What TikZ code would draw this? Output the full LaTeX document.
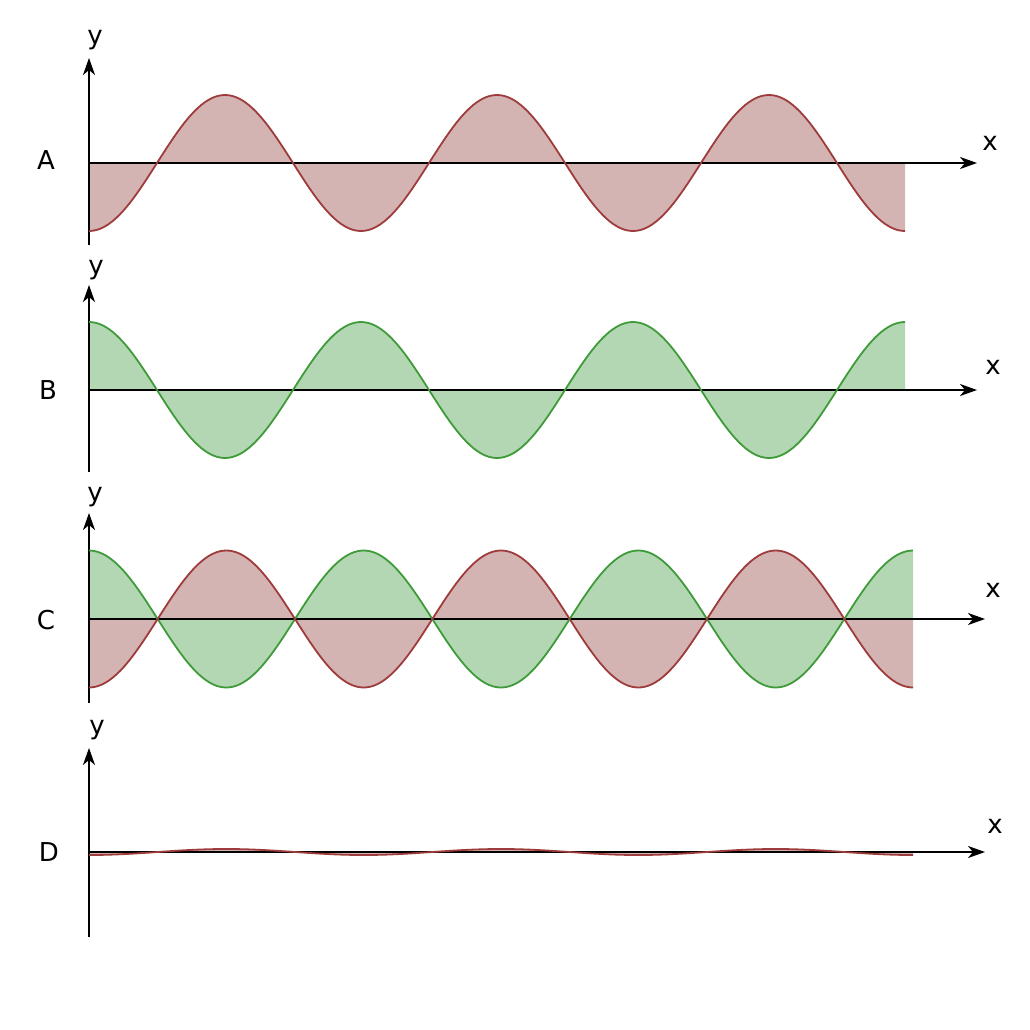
\documentclass[tikz,border=0pt]{standalone}
\usepackage{fontspec}
\setmainfont{DejaVu Sans}
\usepackage{xcolor}
\usetikzlibrary{arrows.meta}
\definecolor{wavered}{HTML}{9E3B3B}
\definecolor{fillred}{HTML}{D4B3B3}
\definecolor{wavegreen}{HTML}{3F9B3A}
\definecolor{fillgreen}{HTML}{B3D7B3}

\begin{document}
\begin{tikzpicture}[x=1pt,y=-1pt,
  axis/.style={-{Stealth[length=17pt,width=12pt,inset=5pt]},line width=2pt,draw=black},
  lbl/.style={font=\fontsize{26}{30}\selectfont,inner sep=0pt},
  redwave/.style={draw=wavered,line width=1.8pt},
  greenwave/.style={draw=wavegreen,line width=1.8pt},
  redfill/.style={fill=fillred,draw=none},
  greenfill/.style={fill=fillgreen,draw=none}
]
\useasboundingbox (0,0) rectangle (1030,1030);

% axis end points
\coordinate (oA) at (89,163);  \coordinate (xA) at (977,163);
\coordinate (bA) at (89,245);  \coordinate (yA) at (89,58);
\coordinate (oB) at (89,390);  \coordinate (xB) at (977,390);
\coordinate (bB) at (89,472);  \coordinate (yB) at (89,285);
\coordinate (oC) at (89,619);  \coordinate (xC) at (985,619);
\coordinate (bC) at (89,703);  \coordinate (yC) at (89,513);
\coordinate (oD) at (89,852);  \coordinate (xD) at (985,852);
\coordinate (bD) at (89,937);  \coordinate (yD) at (89,748);

% labels
\node[lbl] (tA) at (46,160) {A};
\node[lbl] (tB) at (48,390) {B};
\node[lbl] (tC) at (46,620) {C};
\node[lbl] (tD) at (49,852) {D};
\node[lbl] (lyA) at (95,40) {y};  \node[lbl] (lxA) at (990,143) {x};
\node[lbl] (lyB) at (96,270) {y}; \node[lbl] (lxB) at (993,367) {x};
\node[lbl] (lyC) at (95,497) {y}; \node[lbl] (lxC) at (993,590) {x};
\node[lbl] (lyD) at (97,730) {y}; \node[lbl] (lxD) at (995,826) {x};

% fills
\fill[redfill] (89,163) -- plot[domain=89:905,samples=241] (\x,{163+68*cos((\x-89)/272*360)}) -- (905,163) -- cycle;
\fill[greenfill] (89,390) -- plot[domain=89:905,samples=241] (\x,{390-68*cos((\x-89)/272*360)}) -- (905,390) -- cycle;
\fill[greenfill] (89,619) -- plot[domain=89:913,samples=241] (\x,{619-68.5*cos((\x-89)/274.67*360)}) -- (913,619) -- cycle;
\fill[redfill] (89,619) -- plot[domain=89:913,samples=241] (\x,{619+68.5*cos((\x-89)/274.67*360)}) -- (913,619) -- cycle;
\fill[redfill] (89,852) -- plot[domain=89:913,samples=241] (\x,{852+3*cos((\x-89)/274.67*360)}) -- (913,852) -- cycle;

% axes
\foreach \p in {A,B,C,D}{
  \draw[axis] (o\p) -- (x\p);
  \draw[axis] (b\p) -- (y\p);
}

% waves
\draw[redwave] plot[domain=89:905,samples=241] (\x,{163+68*cos((\x-89)/272*360)});
\draw[greenwave] plot[domain=89:905,samples=241] (\x,{390-68*cos((\x-89)/272*360)});
\draw[greenwave] plot[domain=89:913,samples=241] (\x,{619-68.5*cos((\x-89)/274.67*360)});
\draw[redwave] plot[domain=89:913,samples=241] (\x,{619+68.5*cos((\x-89)/274.67*360)});
\draw[redwave] plot[domain=89:913,samples=241] (\x,{852+3*cos((\x-89)/274.67*360)});
\end{tikzpicture}
\end{document}
